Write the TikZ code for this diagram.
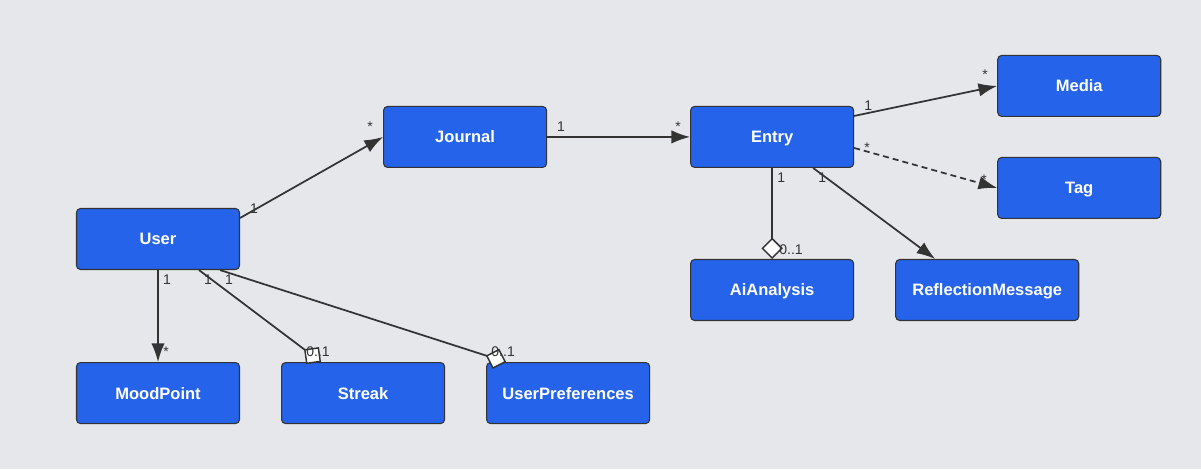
\documentclass[tikz,border=0pt]{standalone}
\usepackage{fontspec}
\setmainfont{Liberation Sans}
\usepackage{tikz}
\usetikzlibrary{arrows.meta,positioning}
\definecolor{bg}{RGB}{229, 231, 235}
\definecolor{blue}{RGB}{37, 99, 235}
\definecolor{edgegray}{RGB}{51, 51, 51}
\tikzstyle{cls} = [rectangle, rounded corners=3pt, draw=edgegray, line width=0.8pt, fill=blue, text=white, text centered, font=\bfseries\fontsize{12.4}{14}\selectfont, text depth=0pt, minimum width=122.25pt, minimum height=45.75pt, inner sep=2pt]
\tikzstyle{mult} = [text=edgegray, font=\fontsize{10.5}{12}\selectfont, inner sep=1pt]
\tikzstyle{tedge} = [draw=edgegray, line width=1.3pt, -{Latex[length=14pt, width=10pt]}]
\tikzstyle{dedge} = [tedge, dash pattern=on 4.5pt off 3pt]
\tikzstyle{aedge} = [draw=edgegray, line width=1.3pt, -{Diamond[length=16pt, width=16pt, fill=white, line width=1.1pt]}]

\begin{document}
\begin{tikzpicture}

\fill[bg] (-118.5pt,179.25pt) rectangle (782.25pt,-172.5pt);

% classes =============================

% user side
\node[cls] (user) {User};
\node[cls, above right=30pt and 107.25pt of user] (journal) {Journal};
\node[cls, below=69pt of user] (mood) {MoodPoint};
\node[cls, right=30.75pt of mood] (streak) {Streak};
\node[cls, right=30.75pt of streak] (prefs) {UserPreferences};

% entry side
\node[cls, right=107.25pt of journal] (entry) {Entry};
\node[cls, right=107.25pt of entry, yshift=38.25pt] (media) {Media};
\node[cls, right=107.25pt of entry, yshift=-38.25pt] (tag) {Tag};
\node[cls, below=68.25pt of entry] (ai) {AiAnalysis};
\node[cls, right=30.75pt of ai, minimum width=137.25pt] (refl) {ReflectionMessage};




% edges from user

\path[tedge] ([yshift=15.75pt]user.east) -- (journal.west)
  node[mult, at start, xshift=10.5pt, yshift=6.75pt] {1}
  node[mult, at end, xshift=-9.75pt, yshift=7.5pt] {*};

\path[tedge] (user.south) -- (mood.north)
  node[mult, at start, xshift=6.75pt, yshift=-7.5pt] {1}
  node[mult, at end, xshift=6pt, yshift=7.5pt] {*};

\path[aedge] ([xshift=30.75pt]user.south) -- ([xshift=-31.5pt]streak.north)
  node[mult, at start, xshift=6.75pt, yshift=-7.5pt] {1}
  node[mult, at end, xshift=-2.25pt, yshift=7.5pt] {0..1};

\path[aedge] ([xshift=46.5pt]user.south) -- ([xshift=-46.5pt]prefs.north)
  node[mult, at start, xshift=6.75pt, yshift=-7.5pt] {1}
  node[mult, at end, xshift=-2.25pt, yshift=7.5pt] {0..1};


% edges from journal and entry

\path[tedge] (journal.east) -- (entry.west)
  node[mult, at start, xshift=10.5pt, yshift=7.5pt] {1}
  node[mult, at end, xshift=-9pt, yshift=7.5pt] {*};

\path[tedge] ([yshift=15.75pt]entry.east) -- (media.west)
  node[mult, at start, xshift=10.5pt, yshift=7.5pt] {1}
  node[mult, at end, xshift=-9pt, yshift=8.25pt] {*};

\path[dedge] ([yshift=-8.25pt]entry.east) -- (tag.west)
  node[mult, at start, xshift=9.75pt, yshift=0pt] {*}
  node[mult, at end, xshift=-9.75pt, yshift=6pt] {*};

\path[aedge] (entry.south) -- (ai.north)
  node[mult, at start, xshift=6.75pt, yshift=-7.5pt] {1}
  node[mult, at end, anchor=west, xshift=3.75pt, yshift=7pt] {0..1};

\path[tedge] ([xshift=30.75pt]entry.south) -- ([xshift=-39pt]refl.north)
  node[mult, at start, xshift=6.75pt, yshift=-7.5pt] {1};



\end{tikzpicture}
\end{document}
